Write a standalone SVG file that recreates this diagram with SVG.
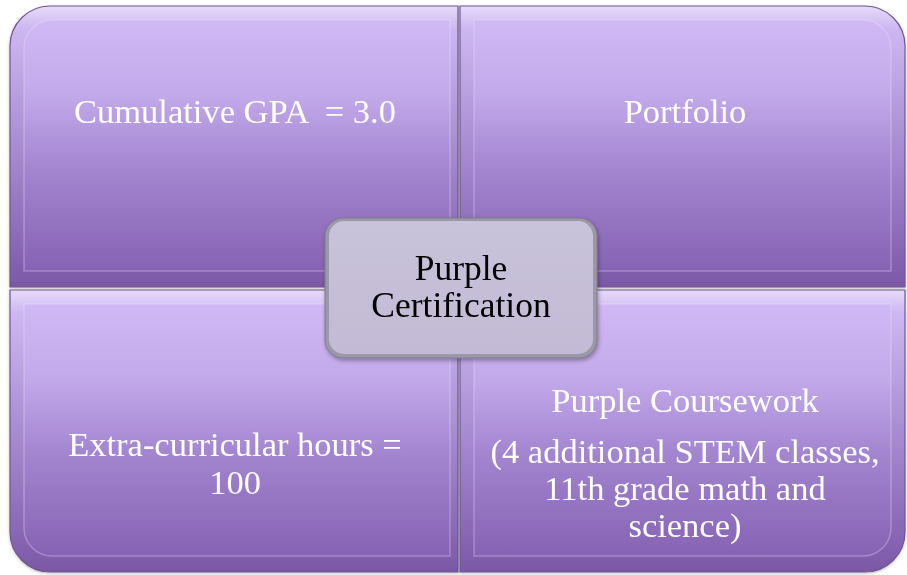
<svg xmlns="http://www.w3.org/2000/svg" width="907" height="575" viewBox="0 0 907 575">
<style>
.q-outer{fill:url(#gOuter);stroke:#6e5891;stroke-width:1.2}
.q-inner{fill:url(#gInner);stroke:#efe6fc;stroke-opacity:0.3;stroke-width:1.5}
.qt{font-family:"Liberation Serif","Times New Roman",serif;font-size:34.5px;fill:#ffffff;text-anchor:middle;white-space:pre}
.ct{font-family:"Liberation Serif","Times New Roman",serif;font-size:35.5px;fill:#000000;text-anchor:middle}
</style>
<defs>
<linearGradient id="gOuter" x1="0" y1="0" x2="0" y2="1">
<stop offset="0" stop-color="#e6dbf9"/>
<stop offset="0.08" stop-color="#cdb7f2"/>
<stop offset="0.9" stop-color="#8563b2"/>
<stop offset="1" stop-color="#7a58a6"/>
</linearGradient>
<linearGradient id="gInner" x1="0" y1="0" x2="0" y2="1">
<stop offset="0" stop-color="#d0b9f5"/>
<stop offset="0.3" stop-color="#c2a9ea"/>
<stop offset="0.6" stop-color="#a284cf"/>
<stop offset="1" stop-color="#8663b4"/>
</linearGradient>
<linearGradient id="gCenter" x1="0" y1="0" x2="0" y2="1">
<stop offset="0" stop-color="#c9c2db"/>
<stop offset="1" stop-color="#c3bbd5"/>
</linearGradient>
<filter id="sh" x="-5%" y="-5%" width="110%" height="110%">
<feDropShadow dx="0" dy="1" stdDeviation="1.5" flood-color="#000" flood-opacity="0.25"/>
</filter>
<filter id="csh" x="-10%" y="-10%" width="120%" height="130%">
<feDropShadow dx="1" dy="2" stdDeviation="2" flood-color="#000" flood-opacity="0.35"/>
</filter>
</defs>
<rect width="907" height="575" fill="#ffffff"/>
<g id="connectors"/>
<g id="node-gpa" filter="url(#sh)">
<path class="q-outer" d="M10,46 A40,40 0 0 1 50,6 H458 V287 H10 Z"/>
<path class="q-inner" d="M24,48 A28,28 0 0 1 52,20 H450 V271 H24 Z"/>
<text class="qt" x="235" y="123" xml:space="preserve">Cumulative GPA  = 3.0</text>
</g>
<g id="node-portfolio" filter="url(#sh)">
<path class="q-outer" d="M460,6 H865 A40,40 0 0 1 905,46 V287 H460 Z"/>
<path class="q-inner" d="M474,20 H863 A28,28 0 0 1 891,48 V271 H474 Z"/>
<text class="qt" x="685" y="123">Portfolio</text>
</g>
<g id="node-hours" filter="url(#sh)">
<path class="q-outer" d="M10,290 H458 V572 H50 A40,40 0 0 1 10,532 Z"/>
<path class="q-inner" d="M24,304 H450 V556 H52 A28,28 0 0 1 24,528 Z"/>
<text class="qt" x="235" y="456">Extra-curricular hours =</text>
<text class="qt" x="235" y="494">100</text>
</g>
<g id="node-coursework" filter="url(#sh)">
<path class="q-outer" d="M460,290 H905 V532 A40,40 0 0 1 865,572 H460 Z"/>
<path class="q-inner" d="M474,304 H891 V528 A28,28 0 0 1 863,556 H474 Z"/>
<text class="qt" x="685" y="412">Purple Coursework</text>
<text class="qt" x="685" y="463">(4 additional STEM classes,</text>
<text class="qt" x="685" y="500">11th grade math and</text>
<text class="qt" x="685" y="537">science)</text>
</g>
<g id="node-center" filter="url(#csh)">
<rect x="325" y="218" width="272" height="140" rx="18" ry="18" fill="#9b98a8" stroke="#7d7a8c" stroke-width="1"/>
<rect x="329" y="221" width="264" height="133" rx="15" ry="15" fill="url(#gCenter)"/>
<text class="ct" x="461" y="280">Purple</text>
<text class="ct" x="461" y="317">Certification</text>
</g>
</svg>
